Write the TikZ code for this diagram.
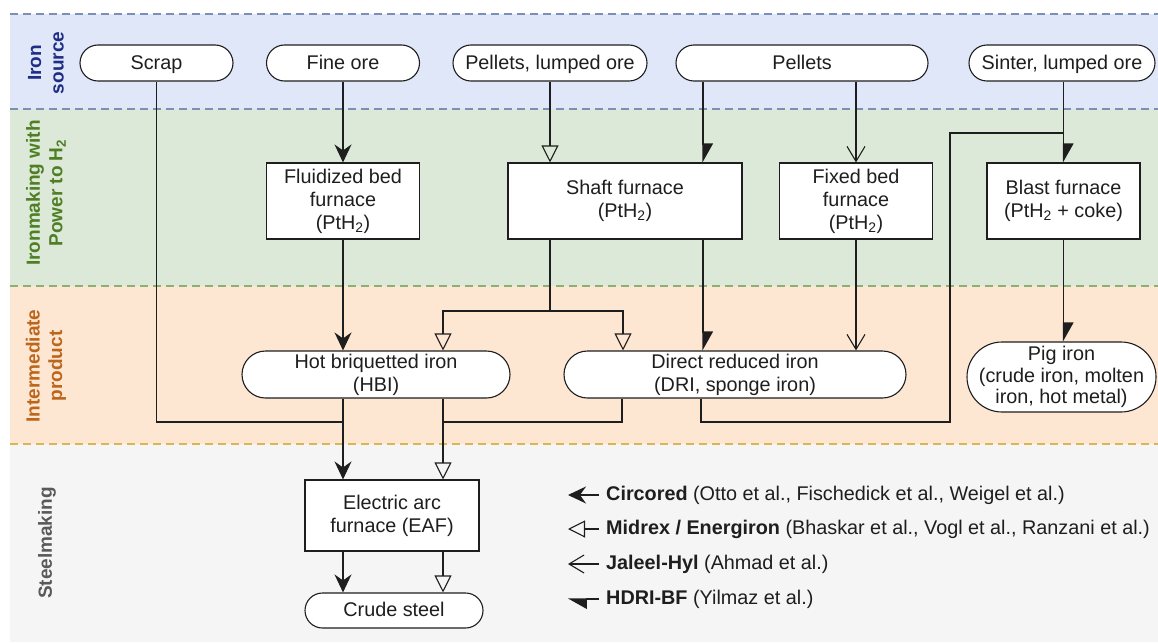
\documentclass[tikz,border=0pt]{standalone}
\usepackage{fontspec}
\setmainfont{Liberation Sans}
\usetikzlibrary{arrows.meta,calc}
\definecolor{bBlue}{HTML}{DFE7F8}
\definecolor{bGreen}{HTML}{DCE9D8}
\definecolor{bPeach}{HTML}{FDE6D2}
\definecolor{bGray}{HTML}{F5F5F5}
\definecolor{dBlue}{HTML}{7D8FB3}
\definecolor{dGreen}{HTML}{8DAF74}
\definecolor{dGold}{HTML}{D9B650}
\definecolor{tBlue}{HTML}{1F2D84}
\definecolor{tGreen}{HTML}{4E7F24}
\definecolor{tBrown}{HTML}{BC661C}
\definecolor{tGray}{HTML}{595959}
\definecolor{ink}{HTML}{1E1E1E}
\tikzset{
  tipCirc/.tip={Stealth[length=18pt,width=17pt,inset=6pt]},
  tipMid/.tip={Triangle[open,length=17pt,width=17pt]},
  tipJal/.tip={Straight Barb[length=15pt,width=18pt]},
  tipHd/.tip={Triangle[left,length=18pt,width=20pt]},
  nbase/.style={draw=ink, line width=1.1pt, fill=white, inner sep=0pt, align=center, text=ink, font=\fontsize{19.8}{23}\selectfont},
  oneline/.style={text height=14.5pt, text depth=2pt},
  sz/.style 2 args={minimum width=#1, minimum height=#2},
  conn/.style={draw=ink, line width=1.1pt},
  sepline/.style={line width=1.7pt, dash pattern=on 8pt off 5pt},
  lab/.style={rotate=90, align=center, font=\bfseries\fontsize{19}{22.5}\selectfont},
  leg/.style={anchor=west, inner sep=0pt, text=ink, font=\fontsize{19.8}{23}\selectfont},
}
\begin{document}
\begin{tikzpicture}[x=1pt,y=-1pt]
\useasboundingbox (0,0) rectangle (1158,642);
% bands
\fill[bBlue]  (10,14)  rectangle (1158,109);
\fill[bGreen] (10,109) rectangle (1158,286);
\fill[bPeach] (10,286) rectangle (1158,444);
\fill[bGray]  (10,444) rectangle (1158,642);
\draw[sepline, draw=dBlue]  (10,14)  -- (1158,14);
\draw[sepline, draw=dBlue]  (10,109) -- (1158,109);
\draw[sepline, draw=dGreen] (10,286) -- (1158,286);
\draw[sepline, draw=dGold]  (10,444) -- (1158,444);
% band labels
\node[lab, text=tBlue]  (lIron)  at (46,63)  {Iron\\source};
\node[lab, text=tGreen] (lMake)  at (46,193) {Ironmaking with\\Power to H\textsubscript{2}};
\node[lab, text=tBrown] (lInt)   at (46,366) {Intermediate\\product};
\node[lab, text=tGray]  (lSteel) at (47,543) {Steelmaking};
% iron sources
\node[nbase, oneline, sz={153pt}{36pt}, rounded corners=18pt] (scrap) at (156.5,63) {Scrap};
\node[nbase, oneline, sz={153pt}{36pt}, rounded corners=18pt] (fine)  at (343,63)   {Fine ore};
\node[nbase, oneline, sz={194pt}{36pt}, rounded corners=18pt] (pl)    at (550,63)   {Pellets, lumped ore};
\node[nbase, oneline, sz={252pt}{36pt}, rounded corners=18pt] (pel)   at (802,63)   {Pellets};
\node[nbase, oneline, sz={186pt}{36pt}, rounded corners=18pt] (sin)   at (1062,63)  {Sinter, lumped ore};
% ironmaking
\node[nbase, sz={153pt}{76pt}] (flu)   at (343,201)    {Fluidized bed\\furnace\\(PtH\textsubscript{2})};
\node[nbase, sz={234pt}{76pt}] (shaft) at (625,201)    {Shaft furnace\\(PtH\textsubscript{2})};
\node[nbase, sz={153pt}{76pt}] (fix)   at (856,201)    {Fixed bed\\furnace\\(PtH\textsubscript{2})};
\node[nbase, sz={153pt}{76pt}] (bf)    at (1063.5,201) {Blast furnace\\(PtH\textsubscript{2} + coke)};
% intermediate
\node[nbase, sz={268pt}{47pt}, rounded corners=23.5pt] (hbi) at (376,374.5) {Hot briquetted iron\\(HBI)};
\node[nbase, sz={342pt}{47pt}, rounded corners=23.5pt] (dri) at (735,374.5) {Direct reduced iron\\(DRI, sponge iron)};
\node[nbase, sz={189pt}{70pt}, rounded corners=35pt, font=\fontsize{19.8}{21.5}\selectfont] (pig) at (1061.5,377) {Pig iron\\(crude iron, molten\\iron, hot metal)};
% steelmaking
\node[nbase, sz={174pt}{71pt}] (eaf) at (392,515.5) {Electric arc\\furnace (EAF)};
\node[nbase, oneline, sz={178pt}{35pt}, rounded corners=17.5pt] (crude) at (394,610.5) {Crude steel};
% helper coordinates
\coordinate (jA) at (343,422);
\coordinate (jB) at (443,422);
\coordinate (dA) at (622,422);
\coordinate (sJ) at (550,311);
\coordinate (hx) at (703,0);
\coordinate (dx) at (701,0);
\coordinate (r1) at (950,422);
\coordinate (r2) at (950,133);
% Circored
\draw[conn,-{tipCirc}] (fine.south) -- (flu.north);
\draw[conn,-{tipCirc}] (flu.south) -- (flu.south |- hbi.north);
\draw[conn] (scrap.south) |- (jA);
\draw[conn,-{tipCirc}] (hbi.south -| jA) -- (eaf.north -| jA);
\draw[conn,-{tipCirc}] (eaf.south -| jA) -- (crude.north -| jA);
% Midrex / Energiron
\draw[conn,-{tipMid}] (pl.south) -- (pl.south |- shaft.north);
\draw[conn] (shaft.south -| sJ) -- (sJ);
\draw[conn,-{tipMid}] (sJ) -| ($(hbi.north)+(67,0)$);
\draw[conn,-{tipMid}] (sJ) -| ($(dri.north)+(-112,0)$);
\draw[conn] (dri.south -| dA) |- (jB);
\draw[conn,-{tipMid}] (hbi.south -| jB) -- (eaf.north -| jB);
\draw[conn,-{tipMid}] (eaf.south -| jB) -- (crude.north -| jB);
% Jaleel-Hyl
\draw[conn,-{tipJal}] (pel.south -| fix.north) -- (fix.north);
\draw[conn,-{tipJal}] (fix.south) -- (fix.south |- dri.north);
% HDRI-BF
\draw[conn,-{tipHd}] (pel.south -| hx) -- (shaft.north -| hx);
\draw[conn,-{tipHd}] (shaft.south -| hx) -- (dri.north -| hx);
\draw[conn] (dri.south -| dx) |- (r1) -- (r2) -- (r2 -| bf.north);
\draw[conn,-{tipHd}] (bf.north |- sin.south) -- (bf.north);
\draw[conn,-{tipHd}] (bf.south) -- (bf.south |- pig.north);
% legend
\node[leg] (lg1) at (606,495) {\textbf{Circored} (Otto et al., Fischedick et al., Weigel et al.)};
\node[leg] (lg2) at (606,529) {\textbf{Midrex / Energiron} (Bhaskar et al., Vogl et al., Ranzani et al.)};
\node[leg] (lg3) at (606,564) {\textbf{Jaleel-Hyl} (Ahmad et al.)};
\node[leg] (lg4) at (606,599) {\textbf{HDRI-BF} (Yilmaz et al.)};
\coordinate (a1) at (568,495);
\coordinate (a2) at (568,529);
\coordinate (a3) at (568,564);
\coordinate (a4) at (568,599);
\draw[conn,-{tipCirc}] ($(lg1.west)+(-7,0)$) -- (a1);
\draw[conn,-{tipMid}]  ($(lg2.west)+(-7,0)$) -- (a2);
\draw[conn,-{tipJal}]  ($(lg3.west)+(-7,0)$) -- (a3);
\draw[conn,-{tipHd}]   ($(lg4.west)+(-7,0)$) -- (a4);
\end{tikzpicture}
\end{document}
